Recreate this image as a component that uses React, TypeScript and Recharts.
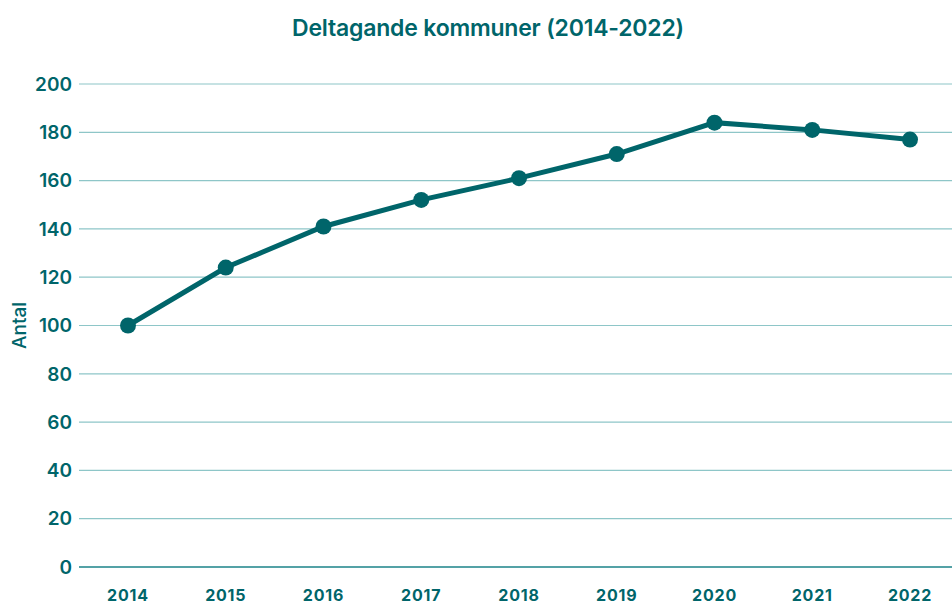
import { LineChart, Line, XAxis, YAxis, CartesianGrid, Label } from "recharts";

const years = ["2014", "2015", "2016", "2017", "2018", "2019", "2020", "2021", "2022"];
const participants = [100, 124, 141, 152, 161, 171, 184, 181, 177];
const yTicks = [0, 20, 40, 60, 80, 100, 120, 140, 160, 180, 200];

const teal = "#00656a";
const gridTeal = "#8ec6c8";

const data = years.map((year, i) => ({ year, antal: participants[i] }));

export default function App() {
	return (
		<div
			style={{
				position: "absolute",
				left: 0,
				top: 0,
				width: 952,
				height: 604,
				background: "#ffffff",
				fontFamily: "Inter, 'Noto Sans', sans-serif",
			}}
		>
			<div
				style={{
					position: "absolute",
					left: 0,
					top: 14,
					width: 976,
					textAlign: "center",
					fontSize: 23,
					fontWeight: 600,
					color: teal,
					letterSpacing: -0.2,
				}}
			>
				Deltagande kommuner (2014-2022)
			</div>
			<LineChart
				width={952}
				height={604}
				data={data}
				margin={{ top: 84, right: 0, bottom: 0, left: 0 }}
			>
				<CartesianGrid vertical={false} stroke={gridTeal} strokeWidth={1.2} />
				<XAxis
					dataKey="year"
					height={37}
					padding={{ left: 49, right: 42 }}
					axisLine={{ stroke: "#2e8c92", strokeWidth: 1.5 }}
					tickLine={false}
					tickSize={0}
					tickMargin={23}
					tick={{ fill: teal, fontSize: 16, fontWeight: 700, letterSpacing: 0.8 }}
				/>
				<YAxis
					domain={[0, 200]}
					ticks={yTicks}
					width={79}
					axisLine={false}
					tickLine={false}
					tickSize={0}
					tickMargin={7}
					tick={{ fill: teal, fontSize: 19, fontWeight: 600 }}
				>
					<Label
						value="Antal"
						angle={-90}
						position="insideLeft"
						offset={19}
						style={{ fill: teal, fontSize: 19, fontWeight: 500, textAnchor: "middle" }}
					/>
				</YAxis>
				<Line
					type="linear"
					dataKey="antal"
					stroke={teal}
					strokeWidth={5}
					dot={{ r: 8, fill: teal, stroke: teal, strokeWidth: 0 }}
					activeDot={false}
					isAnimationActive={false}
				/>
			</LineChart>
		</div>
	);
}
